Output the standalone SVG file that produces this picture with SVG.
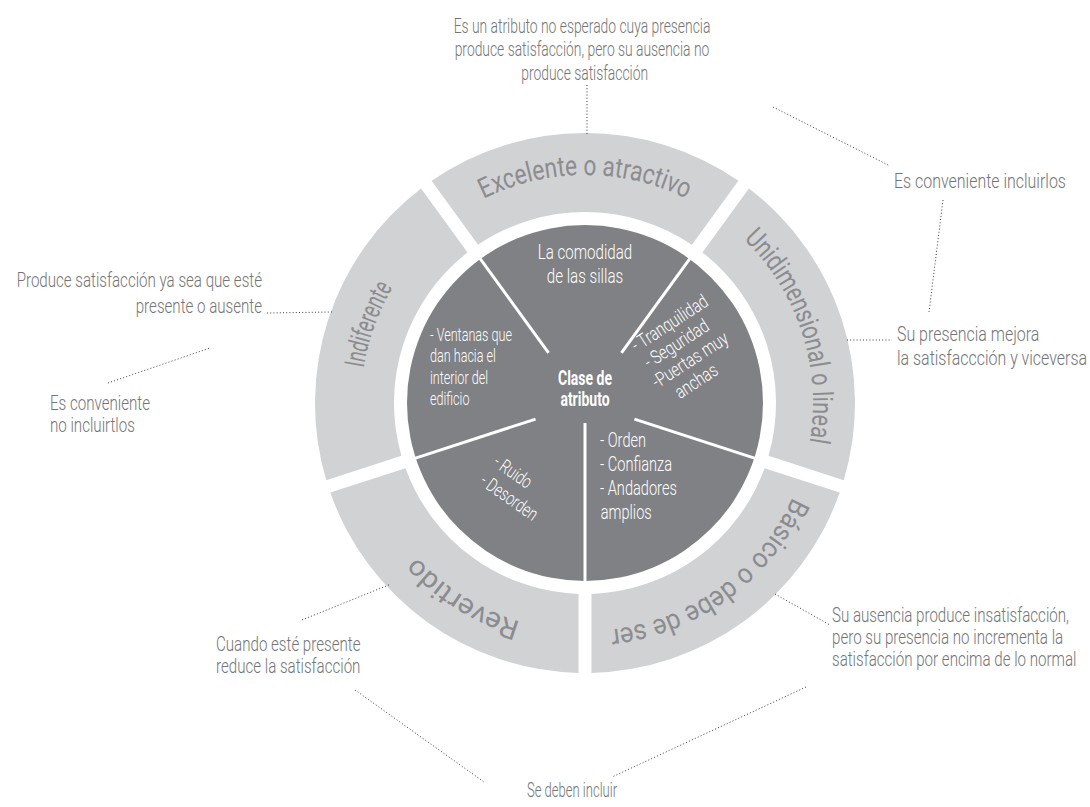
<svg xmlns="http://www.w3.org/2000/svg" width="1090" height="807" viewBox="0 0 1090 807">
  <style>
    .txt { font-family: Roboto, "Open Sans", "Liberation Sans", sans-serif; font-weight: 300; transform-box: fill-box; }
    .note { fill: #737477; font-size: 21px; transform: scaleX(0.72); }
    .inner { fill: #ffffff; transform: scaleX(0.7); }
    .bold { font-weight: 700; }
    .start { text-anchor: start; transform-origin: 0% 50%; }
    .mid { text-anchor: middle; transform-origin: 50% 50%; }
    .end { text-anchor: end; transform-origin: 100% 50%; }
    .ring { fill: #d1d2d4; }
    .label { font-family: Roboto, "Open Sans", "Liberation Sans", sans-serif; font-weight: 400; font-size: 28px; fill: #8b8c8f; text-anchor: middle; }
    .core { fill: #808184; }
    .divider { stroke: #ffffff; stroke-width: 3; }
    .dots { fill: none; stroke: #3a3a3a; stroke-width: 1; stroke-dasharray: 1 2.2; }
  </style>
  <defs>
    <!-- clockwise arcs (r=228) centred on each ring sector, used as label baselines -->
    <path id="arc-excelente" d="M360.46,363.41 A228,228 0 0 1 809.54,363.41"/>
    <path id="arc-unidimensional" d="M553.27,177.22 A228,228 0 0 1 692.04,604.31"/>
    <path id="arc-basico" d="M789.93,303.05 A228,228 0 0 1 426.62,567.01"/>
    <path id="arc-revertido" d="M754.44,555.56 A228,228 0 0 1 373.60,317.59"/>
    <path id="arc-indiferente" d="M472.74,599.80 A228,228 0 0 1 624.59,178.46"/>
  </defs>

  <!-- outer ring: five attribute classes -->
  <g id="excelente">
    <path class="ring" d="M431.60,180.81 A270,270 0 0 1 738.40,180.81 L691.94,244.75 A191,191 0 0 0 478.06,244.75 Z"/>
    <text class="label"><textPath href="#arc-excelente" startOffset="50%" textLength="210" lengthAdjust="spacingAndGlyphs">Excelente o atractivo</textPath></text>
  </g>
  <g id="unidimensional">
    <path class="ring" d="M748.91,188.45 A270,270 0 0 1 843.72,480.23 L768.55,455.81 A191,191 0 0 0 702.46,252.39 Z"/>
    <text class="label"><textPath href="#arc-unidimensional" startOffset="50%" textLength="222" lengthAdjust="spacingAndGlyphs">Unidimensional o lineal</textPath></text>
  </g>
  <g id="basico">
    <path class="ring" d="M839.70,492.59 A270,270 0 0 1 591.5,672.92 L591.5,593.89 A191,191 0 0 0 764.54,468.17 Z"/>
    <text class="label"><textPath href="#arc-basico" startOffset="50%" textLength="236" lengthAdjust="spacingAndGlyphs">Básico o debe de ser</textPath></text>
  </g>
  <g id="revertido">
    <path class="ring" d="M578.5,672.92 A270,270 0 0 1 330.30,492.59 L405.46,468.17 A191,191 0 0 0 578.5,593.89 Z"/>
    <text class="label"><textPath href="#arc-revertido" startOffset="50%" textLength="124" lengthAdjust="spacingAndGlyphs">Revertido</textPath></text>
  </g>
  <g id="indiferente">
    <path class="ring" d="M326.28,480.23 A270,270 0 0 1 421.09,188.45 L467.54,252.39 A191,191 0 0 0 401.45,455.81 Z"/>
    <text class="label"><textPath href="#arc-indiferente" startOffset="50%" textLength="86" lengthAdjust="spacingAndGlyphs">Indiferente</textPath></text>
  </g>

  <!-- inner disc with the class name in the middle -->
  <g id="clase">
    <circle class="core" cx="585" cy="403" r="178"/>
    <text class="txt inner bold mid" font-size="20"><tspan x="585" y="385">Clase de</tspan><tspan x="585" y="406">atributo</tspan></text>
  </g>

  <!-- white dividers between the inner examples -->
  <g id="dividers" class="divider">
    <line x1="585" y1="423" x2="585" y2="582"/>
    <line x1="634.45" y1="419.07" x2="755.24" y2="458.31"/>
    <line x1="535.55" y1="419.07" x2="414.76" y2="458.31"/>
    <line x1="548.56" y1="352.84" x2="479.79" y2="258.19"/>
    <line x1="621.44" y1="352.84" x2="690.21" y2="258.19"/>
  </g>

  <!-- examples inside each inner sector -->
  <g id="ej-excelente">
    <text class="txt inner mid" font-size="21" style="transform: scaleX(0.72)"><tspan x="585" y="259">La comodidad</tspan><tspan x="585" y="283">de las sillas</tspan></text>
  </g>
  <g id="ej-unidimensional" transform="translate(637,352) rotate(-33)">
    <text class="txt inner start" font-size="19" style="transform: scaleX(0.78)"><tspan x="0" y="0">- Tranquilidad</tspan><tspan x="2" y="21">- Seguridad</tspan><tspan x="-3" y="42">-Puertas muy</tspan><tspan x="14" y="63">anchas</tspan></text>
  </g>
  <g id="ej-basico">
    <text class="txt inner start" font-size="20" style="transform: scaleX(0.73)"><tspan x="600" y="447">- Orden</tspan><tspan x="600" y="471">- Confianza</tspan><tspan x="600" y="495">- Andadores</tspan><tspan x="601" y="519">amplios</tspan></text>
  </g>
  <g id="ej-revertido" transform="translate(492,465) rotate(35)">
    <text class="txt inner start" font-size="19" style="transform: scaleX(0.73)"><tspan x="0" y="0">- Ruido</tspan><tspan x="0" y="23">- Desorden</tspan></text>
  </g>
  <g id="ej-indiferente">
    <text class="txt inner start" font-size="18"><tspan x="430" y="341">- Ventanas que</tspan><tspan x="430" y="362">dan hacia el</tspan><tspan x="430" y="384">interior del</tspan><tspan x="430" y="405">edificio</tspan></text>
  </g>

  <!-- descriptions around the wheel -->
  <g id="nota-excelente">
    <text class="txt note mid" style="transform: scaleX(0.66)"><tspan x="582" y="33">Es un atributo no esperado cuya presencia</tspan><tspan x="582" y="56">produce satisfacción, pero su ausencia no</tspan><tspan x="586" y="80">produce satisfacción</tspan></text>
  </g>
  <g id="nota-incluirlos">
    <text class="txt note start" style="transform: scaleX(0.76)"><tspan x="894" y="188">Es conveniente incluirlos</tspan></text>
  </g>
  <g id="nota-unidimensional">
    <text class="txt note start" style="transform: scaleX(0.76)"><tspan x="897" y="341">Su presencia mejora</tspan><tspan x="897" y="365">la satisfaccción y viceversa</tspan></text>
  </g>
  <g id="nota-indiferente">
    <text class="txt note end"><tspan x="262" y="287">Produce satisfacción ya sea que esté</tspan><tspan x="262" y="313">presente o ausente</tspan></text>
  </g>
  <g id="nota-no-incluir">
    <text class="txt note start"><tspan x="50" y="410">Es conveniente</tspan><tspan x="50" y="432">no incluirtlos</tspan></text>
  </g>
  <g id="nota-revertido">
    <text class="txt note start"><tspan x="216" y="651">Cuando esté presente</tspan><tspan x="216" y="673">reduce la satisfacción</tspan></text>
  </g>
  <g id="nota-basico">
    <text class="txt note start"><tspan x="832" y="622">Su ausencia produce insatisfacción,</tspan><tspan x="832" y="644">pero su presencia no incrementa la</tspan><tspan x="832" y="666">satisfacción por encima de lo normal</tspan></text>
  </g>
  <g id="nota-incluir">
    <text class="txt note mid" style="transform: scaleX(0.62)"><tspan x="572" y="797">Se deben incluir</tspan></text>
  </g>

  <!-- dotted leader lines -->
  <g id="connectors" class="dots">
    <line x1="587" y1="85" x2="587" y2="134"/>
    <line x1="773" y1="107" x2="890" y2="166"/>
    <line x1="943" y1="200" x2="929" y2="312"/>
    <line x1="847" y1="340" x2="892" y2="340"/>
    <line x1="267" y1="313" x2="332" y2="312"/>
    <line x1="108" y1="383" x2="210" y2="348"/>
    <line x1="302" y1="620" x2="391" y2="584"/>
    <line x1="355" y1="690" x2="484" y2="782"/>
    <line x1="775" y1="594" x2="830" y2="625"/>
    <line x1="806" y1="687" x2="612" y2="777"/>
  </g>
</svg>
